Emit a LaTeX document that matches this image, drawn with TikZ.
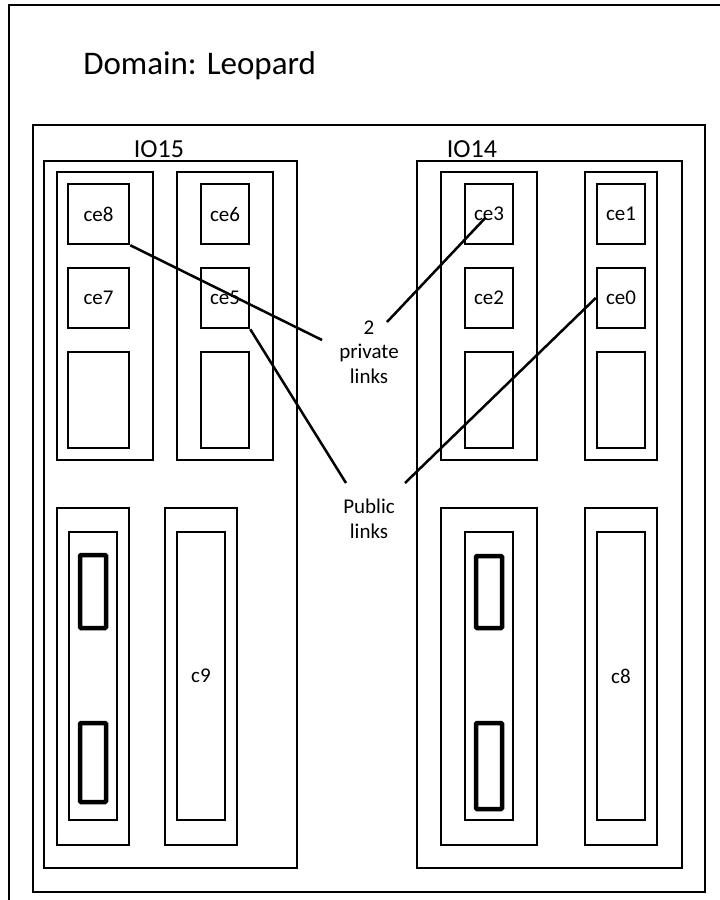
\documentclass[tikz,border=0pt]{standalone}
\usepackage{fontspec}
\setmainfont{Carlito}
\begin{document}
\begin{tikzpicture}[x=1pt,y=-1pt,line width=2.5pt,
  box/.style={draw,rectangle,inner sep=0pt,font=\lblfont},
  slot/.style={box,line width=4.5pt,rounded corners=1pt}]

\def \lblfont {\fontsize{21}{24.5}\selectfont}
\def \iofont {\fontsize{26}{30}\selectfont}
\def \domfont {\fontsize{33}{40}\selectfont}

\useasboundingbox (0,0) rectangle (720,900);
\clip (0,0) rectangle (720,900);

\draw (9,5) rectangle (740,920);
\node (domain) [anchor=base west, inner sep=0pt, font=\domfont] at (82,74) {Domain: Leopard};
\node (dombox) [box, minimum width=672pt, minimum height=767pt] at (369,508.5) {};

\node (io15) [box, minimum width=253pt, minimum height=707pt] at (170.5,514.5) {};
\node (io14) [box, minimum width=265pt, minimum height=707pt] at (549.5,514.5) {};
\node (io15lbl) [anchor=base, inner sep=0pt, font=\iofont] at (159,157) {IO15};
\node (io14lbl) [anchor=base, inner sep=0pt, font=\iofont] at (472,157) {IO14};

\foreach \n/\x/\w in {io15a/105/96, io15b/225/96, io14a/489/96, io14b/621/72}
{
  \node (\n) [box, minimum width=\w pt, minimum height=288pt] at (\x,316) {};
}

\foreach \n/\x/\y/\w/\h/\t in {ce8/98.5/214/61/60/ce8, ce7/98.5/298/61/60/ce7, io15a3/98.5/400/61/96/{},
  ce6/225/214/48/60/ce6, ce5/225/298/48/60/ce5, io15b3/225/400/48/96/{},
  ce3/489/214/48/60/ce3, ce2/489/298/48/60/ce2, io14a3/489/400/48/96/{},
  ce1/621/214/48/60/ce1, ce0/621/298/48/60/ce0, io14b3/621/400/48/96/{}}
{
  \node (\n) [box, minimum width=\w pt, minimum height=\h pt] at (\x,\y) {\t};
}

\foreach \n/\x/\w in {io15c/93/72, io15d/201/72, io14c/489/96, io14d/621/72}
{
  \node (\n) [box, minimum width=\w pt, minimum height=337pt] at (\x,676.5) {};
}

\foreach \n/\x/\t in {io15cin/93/{}, c9/201/c9, io14cin/489/{}, c8/621/c8}
{
  \node (\n) [box, minimum width=48pt, minimum height=288pt] at (\x,676) {\t};
}

\foreach \n/\x/\y/\h in {io15p1/93/591.5/73, io15p2/93/762.5/79, io14p1/489/592/72, io14p2/489/766/86}
{
  \node (\n) [slot, minimum width=26pt, minimum height=\h pt] at (\x,\y) {};
}

\node (prv) [align=center, font=\lblfont] at (369,352) {2\\private\\links};
\node (pub) [align=center, font=\lblfont] at (369,519) {Public\\links};

\coordinate (prvin) at (322,340);
\coordinate (prvout) at (387,322);
\coordinate (pubin) at (346,483);
\coordinate (pubout) at (405,483);

\draw (ce8.south east) -- (prvin);
\draw[shorten >=5pt] (prvout) -- (ce3.center);
\draw (ce5.south east) -- (pubin);
\draw (pubout) -- (ce0.west);

%\draw[color=red] (0,0) rectangle (720,900);

\end{tikzpicture}
\end{document}
